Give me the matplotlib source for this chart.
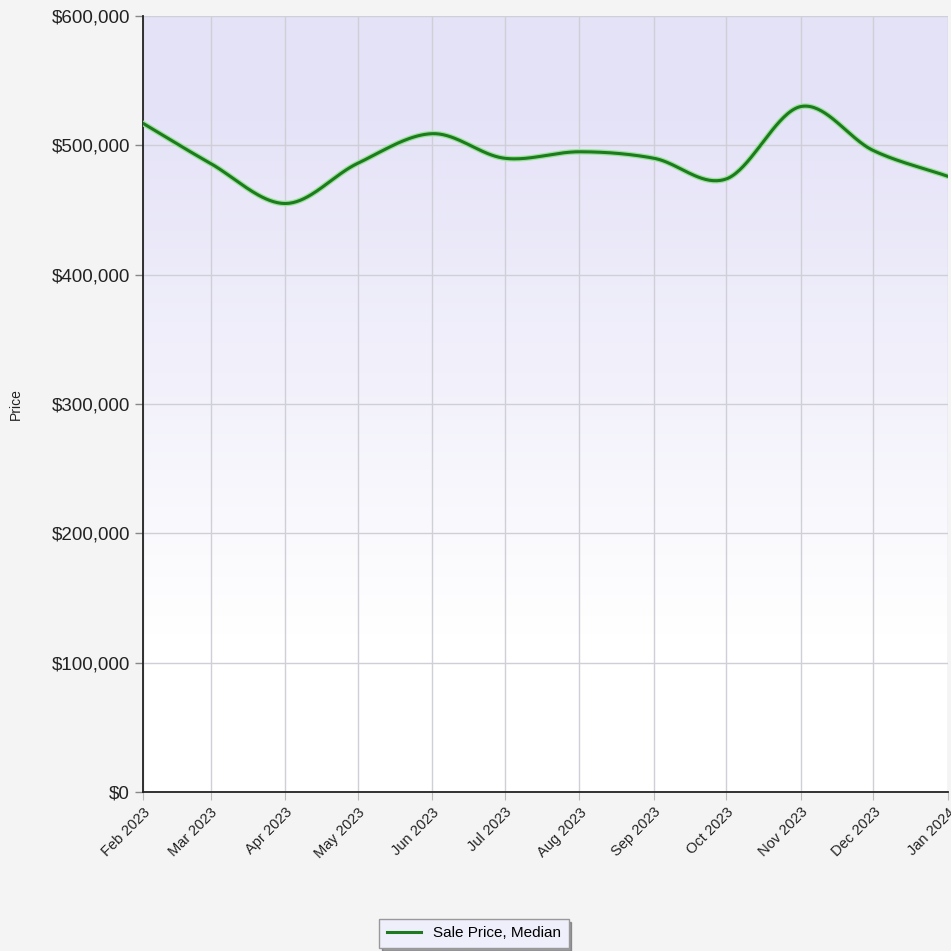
import numpy as np
import matplotlib
matplotlib.use('Agg')
import matplotlib.pyplot as plt
import matplotlib.dates as mdates
from matplotlib.ticker import FuncFormatter
import datetime as dt

#-- data --
months = ['2023-02', '2023-03', '2023-04', '2023-05', '2023-06', '2023-07',
          '2023-08', '2023-09', '2023-10', '2023-11', '2023-12', '2024-01']
price = [517000, 486000, 455000, 486000, 509000, 490000,
         495000, 490000, 474000, 530000, 496000, 476000]
series_name = 'Sale Price, Median'
y_ticks = [0, 100000, 200000, 300000, 400000, 500000, 600000]

plt.rcParams['font.family'] = ['Liberation Sans', 'DejaVu Sans']

dates = [dt.datetime.strptime(m, '%Y-%m') for m in months]
xd = mdates.date2num(dates)
yv = np.array(price, dtype=float)

#-- smooth the line (catmull-rom through the points) --
def smooth(x, y, n=40):
    px = np.concatenate([[2*x[0]-x[1]], x, [2*x[-1]-x[-2]]])
    py = np.concatenate([[2*y[0]-y[1]], y, [2*y[-1]-y[-2]]])
    xs, ys = [], []
    t = np.linspace(0, 1, n)
    for i in range(1, len(px)-2):
        for p, out in ((px, xs), (py, ys)):
            p0, p1, p2, p3 = p[i-1], p[i], p[i+1], p[i+2]
            out.append(0.5*((2*p1) + (-p0+p2)*t + (2*p0-5*p1+4*p2-p3)*t**2
                            + (-p0+3*p1-3*p2+p3)*t**3))
    return np.concatenate(xs), np.concatenate(ys)

xs, ys = smooth(xd, yv)

#-- figure --
fig = plt.figure(figsize=(9.51, 9.51), dpi=100)
fig.patch.set_facecolor('#f4f4f4')
ax = fig.add_axes([0.1504, 0.1672, 0.8464, 0.816])

# gradient background: white at bottom, lavender at top
grad = np.linspace(0, 1, 256)[:, None]
c_top = np.array([0.898, 0.890, 0.969])
c_bot = np.array([1.0, 1.0, 1.0])
w = np.clip((grad - 0.2)*1.5, 0, 1)
img = c_bot[None, None, :]*(1-w[:, :, None]) + c_top[None, None, :]*w[:, :, None]
ax.imshow(img, extent=[xd[0], xd[-1], 0, 600000], origin='lower',
          aspect='auto', zorder=0)

ax.plot(xs, ys, color='#9be39b', lw=4.0, zorder=3, solid_capstyle='round')
ax.plot(xs, ys, color='#1e7a1e', lw=2.2, zorder=4, label=series_name)

ax.set_xlim(xd[0], xd[-1])
ax.set_ylim(0, 600000)
ax.set_xticks(xd)
ax.set_xticklabels([d.strftime('%b %Y') for d in dates], rotation=45,
                   ha='right', va='top', rotation_mode='anchor', fontsize=10.5,
                   color='#222222')
ax.set_yticks(y_ticks)
ax.yaxis.set_major_formatter(FuncFormatter(lambda v, p: '${:,.0f}'.format(v)))
ax.tick_params(axis='y', labelsize=13.5, colors='#888888', length=6, width=1,
               labelcolor='#222222')
ax.tick_params(axis='x', length=6, colors='#bbbbbb', labelcolor='#222222')
ax.grid(True, color='#cfcfd8', lw=1)
ax.set_axisbelow(True)
for s in ['top', 'right']:
    ax.spines[s].set_visible(False)
for s in ['left', 'bottom']:
    ax.spines[s].set_color('#222222')
    ax.spines[s].set_linewidth(1.3)

fig.text(0.017, 0.575, 'Price', rotation=90, fontsize=10, color='#222222',
         ha='center', va='center')

leg = fig.legend(loc='center', bbox_to_anchor=(0.4984, 0.0185), fontsize=11,
                 frameon=True, fancybox=False, shadow=True, handlelength=2.2,
                 borderpad=0.5)
leg.get_frame().set_facecolor('#efeefb')
leg.get_frame().set_edgecolor('#999999')
leg.legend_handles[0].set_color('#1e7a1e')

fig.savefig('out.png', dpi=100, facecolor=fig.get_facecolor())
